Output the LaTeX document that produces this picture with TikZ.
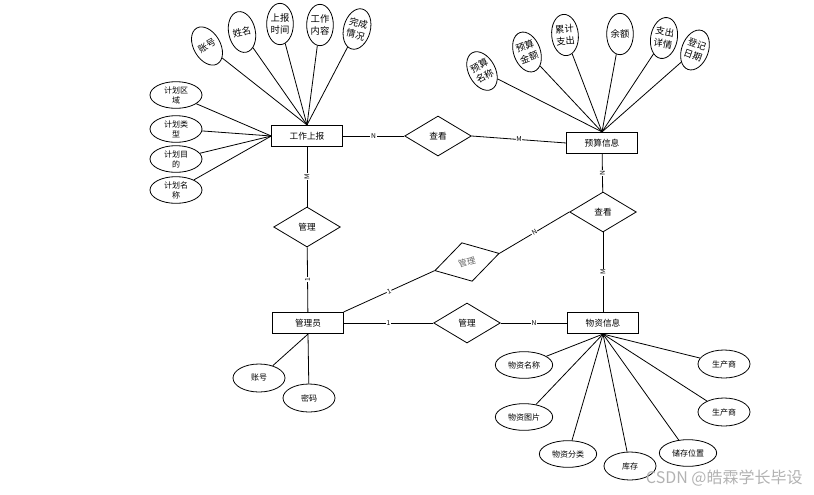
\documentclass[tikz,border=0pt]{standalone}
\usepackage{fontspec}
\setmainfont{Noto Sans CJK SC}
\usetikzlibrary{shapes.geometric}

\begin{document}
\begin{tikzpicture}
  [x=0.75pt,y=-0.75pt,line width=0.6pt,
   every node/.style={font=\fontsize{6.5}{7.5}\selectfont,inner sep=0pt},
   entity/.style={draw,rectangle,minimum width=53pt,minimum height=16pt},
   relation/.style={draw,diamond,minimum width=50pt,minimum height=30pt},
   attr/.style={draw,ellipse,minimum width=39pt,minimum height=20pt,align=center,font=\fontsize{6}{7.5}\selectfont},
   tall/.style={draw,ellipse,minimum width=20pt,minimum height=31pt,align=center,font=\fontsize{7}{9}\selectfont},
   card/.style={fill=white,font=\fontsize{5}{5}\selectfont,inner sep=0.5pt}]
  \useasboundingbox (0,0) rectangle (814,494);

  % entities
  \node [entity] (gz) at (307,136) {工作上报};
  \node [entity] (ys) at (602,143) {预算信息};
  \node [entity] (gly) at (308,323) {管理员};
  \node [entity] (wz) at (603,323) {物资信息};

  % relations
  \node [relation] (ck1) at (438,136) {查看};
  \node [relation] (gl1) at (307,227) {管理};
  \node [relation] (ck2) at (603,212) {查看};
  \node [relation,rotate=15,text=black!60] (gl2) at (467,262) {管理};
  \node [relation] (gl3) at (467,323) {管理};

  % attributes of 工作上报
  \node [tall,rotate=30] (zh1) at (207,46) {账号};
  \node [tall,rotate=12] (xm) at (242,32) {姓名};
  \node [tall] (sbsj) at (280,24) {上报\\时间};
  \node [tall] (gznr) at (320,25) {工作\\内容};
  \node [tall,rotate=-15] (wcqk) at (357,29) {完成\\情况};
  \node [attr] (jhqy) at (176,95) {计划区\\域};
  \node [attr] (jhlx) at (176,129) {计划类\\型};
  \node [attr] (jhmd) at (176,159) {计划目\\的};
  \node [attr] (jhmc) at (176,190) {计划名\\称};

  \foreach \a in {zh1,xm,sbsj,gznr,wcqk}
    \draw (\a) -- (gz.north);
  \foreach \a in {jhqy,jhlx,jhmd,jhmc}
    \draw (\a) -- (gz.west);

  % attributes of 预算信息
  \node [tall,rotate=28] (ysmc) at (482,71) {预算\\名称};
  \node [tall,rotate=20] (ysje) at (527,52) {预算\\金额};
  \node [tall,rotate=5] (ljzc) at (565,35) {累计\\支出};
  \node [tall] (ye) at (620,34) {余额};
  \node [tall,rotate=-10] (zcxq) at (664,38) {支出\\详情};
  \node [tall,rotate=-20] (djrq) at (695,50) {登记\\日期};

  \foreach \a in {ysmc,ysje,ljzc,ye,zcxq,djrq}
    \draw (\a) -- (ys.north);

  % attributes of 物资信息
  \node [attr,minimum width=43pt] (wzmc) at (524,365) {物资名称};
  \node [attr,minimum width=43pt] (wztp) at (524,417) {物资图片};
  \node [attr,minimum width=43pt] (wzfl) at (568,454) {物资分类};
  \node [attr,minimum height=21pt] (kc) at (630,466) {库存};
  \node [attr,minimum width=43pt] (ccwz) at (688,453) {储存位置};
  \node [attr,minimum height=21pt] (scs1) at (724,364) {生产商};
  \node [attr,minimum height=21pt] (scs2) at (724,412) {生产商};

  \foreach \a in {wzmc,wztp,wzfl,kc,ccwz,scs1,scs2}
    \draw (\a) -- (wz.south);

  % attributes of 管理员
  \node [attr,minimum height=21pt] (zh2) at (259,378) {账号};
  \node [attr,minimum height=21pt] (mm) at (309,398) {密码};

  \foreach \a in {zh2,mm}
    \draw (\a) -- (gly.south);

  % connectors
  \draw (gz) -- node[card] {N} (ck1);
  \draw (ck1.east) -- node[card] {M} (ys.west);
  \draw (gz) -- node[card,rotate=90] {M} (gl1);
  \draw (gl1) -- node[card,rotate=90] {1} (gly);
  \draw (ys) -- node[card,rotate=90] {N} (ck2);
  \draw (ck2) -- node[card,rotate=90] {M} (wz);
  \draw (gly.north east) -- node[card,sloped] {1} (gl2.west);
  \draw (gl2.east) -- node[card,sloped] {N} (ck2.west);
  \draw (gly) -- node[card] {1} (gl3);
  \draw (gl3) -- node[card] {N} (wz);

  \node [anchor=east,text=black!30,font=\fontsize{12}{12}\selectfont] (wm) at (803,478) {CSDN @皓霖学长毕设};
\end{tikzpicture}
\end{document}
